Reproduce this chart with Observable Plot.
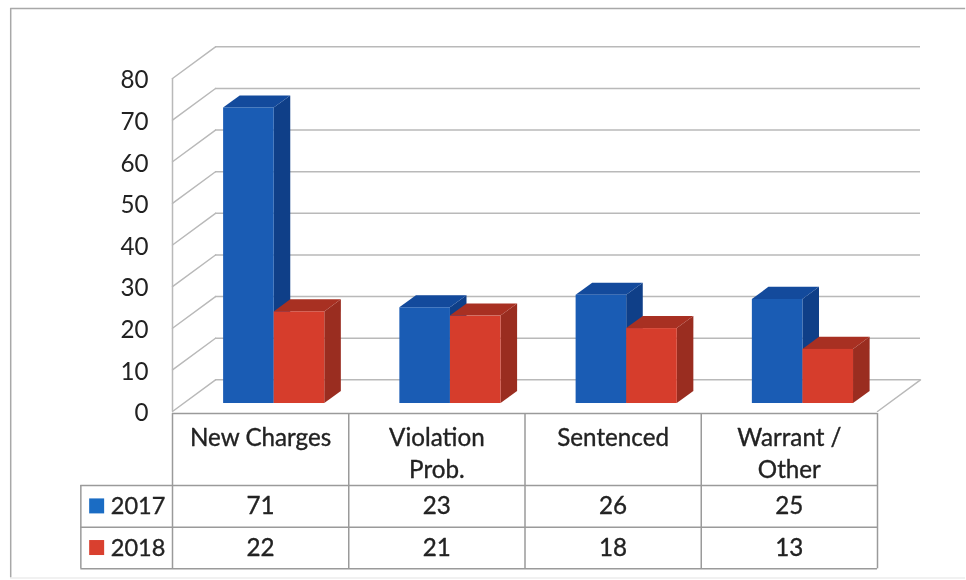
<!DOCTYPE html>
<html><head><meta charset="utf-8">
<script src="https://cdn.jsdelivr.net/npm/d3@7"></script>
<script src="https://cdn.jsdelivr.net/npm/@observablehq/plot@0.6"></script>
<style>html,body{margin:0;padding:0;background:#fff}#c{width:966px;height:580px;overflow:hidden}svg{display:block;filter:blur(0.4px)}</style>
</head><body><div id="c"></div>
<script>
const categories = ["New Charges", "Violation\nProb.", "Sentenced", "Warrant /\nOther"];
const values2017 = [71, 23, 26, 25];
const values2018 = [22, 21, 18, 13];
const seriesNames = ["2017", "2018"];
const yTicks = [0, 10, 20, 30, 40, 50, 60, 70, 80];

// layout in scale units (x: one category = 1, y: value units)
const wallDX = 0.244, wallDY = 7.6;
const barInset = 0.29, barW = 0.287, barDX = 0.094, barDY = 2.9, barBase = 1.92;
const headRow = 17.3, row = 10, tableTop = -0.5;
const rowHeadX = -0.52;
const frameLeft = -0.918, frameRight = 4.5, frameTop = 96.8, frameBottom = -40;
const n = categories.length;
const palette = [
  {front: "#1a5cb4", side: "#0f3f88", top: "#134a9c", swatch: "#1a6cc4"},
  {front: "#d63d2c", side: "#9a2d20", top: "#a83022", swatch: "#d9402f"}
];
const seriesValues = [values2017, values2018];

const rowY = [tableTop, tableTop - headRow, tableTop - headRow - row, tableTop - headRow - 2 * row];

function faces(s) {
  const side = [], top = [], front = [];
  seriesValues[s].forEach((v, i) => {
    const l = i + barInset + s * barW, r = l + barW;
    side.push({k: i, x: r, y1: barBase, y2: barBase + v}, {k: i, x: r + barDX, y1: barBase + barDY, y2: barBase + v + barDY});
    top.push({k: i, y: barBase + v, x1: l, x2: r}, {k: i, y: barBase + v + barDY, x1: l + barDX, x2: r + barDX});
    front.push({x1: l, x2: r, y1: barBase, y2: barBase + v});
  });
  return {side, top, front};
}
const barMarks = [0, 1].flatMap(s => {
  const f = faces(s), c = palette[s];
  return [
    Plot.areaY(f.side, {x: "x", y1: "y1", y2: "y2", z: "k", fill: c.side}),
    Plot.areaX(f.top, {y: "y", x1: "x1", x2: "x2", z: "k", fill: c.top}),
    Plot.rectY(f.front, {x1: "x1", x2: "x2", y1: "y1", y2: "y2", fill: c.front})
  ];
});

const grid = "#b9b9b9", tableLine = "#9a9a9a", ink = "#222";
const fontSize = 24.2, legendFontSize = 23.5;
const heavy = {stroke: ink, strokeWidth: 0.35, fill: ink};

const chart = Plot.plot({
  width: 966, height: 580,
  marginLeft: 172, marginRight: 89, marginTop: 78, marginBottom: 169,
  x: {domain: [0, n], axis: null},
  y: {domain: [0, 80], ticks: yTicks},
  style: {background: "transparent", fontFamily: "Lato, 'Open Sans', sans-serif", overflow: "visible"},
  marks: [
    // outer frame of the scanned page
    Plot.ruleY([frameTop], {x1: frameLeft, x2: frameRight, stroke: "#a8a8a8", strokeWidth: 1.5}),
    Plot.ruleX([frameLeft], {y1: frameTop, y2: frameBottom, stroke: "#a8a8a8", strokeWidth: 1.5}),
    Plot.ruleY([frameBottom], {x1: frameLeft, x2: frameRight, stroke: "#ececec", strokeWidth: 1.5}),
    // back wall grid
    Plot.ruleY(yTicks, {y: d => d + wallDY, x1: wallDX, x2: n + wallDX, stroke: grid, strokeWidth: 1.5}),
    // left wall diagonals
    ...yTicks.map(t => Plot.line([[0, t], [wallDX, t + wallDY]], {stroke: grid, strokeWidth: 1.5})),
    Plot.line([[n, 0], [n + wallDX, wallDY]], {stroke: grid, strokeWidth: 1.5}),
    Plot.ruleX([0], {y1: 0, y2: 80, stroke: grid, strokeWidth: 1.5}),
    ...barMarks,
    // y axis
    Plot.axisY({ticks: yTicks, tickSize: 0, tickPadding: 24, fontSize, label: null, dy: 2, ...heavy}),
    // data table
    Plot.ruleY(rowY.slice(0, 1), {x1: 0, x2: n, stroke: tableLine, strokeWidth: 1.5}),
    Plot.ruleY(rowY.slice(1), {x1: rowHeadX, x2: n, stroke: tableLine, strokeWidth: 1.5}),
    Plot.ruleX(d3.range(n + 1), {y1: rowY[0], y2: rowY[3], stroke: tableLine, strokeWidth: 1.5}),
    Plot.ruleX([rowHeadX], {y1: rowY[1], y2: rowY[3], stroke: tableLine, strokeWidth: 1.5}),
    Plot.text(categories, {x: (d, i) => i + 0.5, y: rowY[0] - 2.4, text: d => d, lineAnchor: "top", fontSize, lineHeight: 1.32, ...heavy}),
    ...[0, 1].flatMap(s => [
      Plot.text(seriesValues[s], {x: (d, i) => i + 0.5, y: rowY[s + 1] - row / 2, text: d => String(d), fontSize, ...heavy}),
      Plot.rect([seriesNames[s]], {x1: rowHeadX + 0.05, x2: rowHeadX + 0.135, y1: rowY[s + 1] - row / 2 - 1.8, y2: rowY[s + 1] - row / 2 + 1.8, fill: palette[s].swatch}),
      Plot.text([seriesNames[s]], {x: rowHeadX + 0.17, y: rowY[s + 1] - row / 2, text: d => d, textAnchor: "start", fontSize: legendFontSize, ...heavy})
    ])
  ]
});
document.getElementById("c").append(chart);
</script></body></html>
